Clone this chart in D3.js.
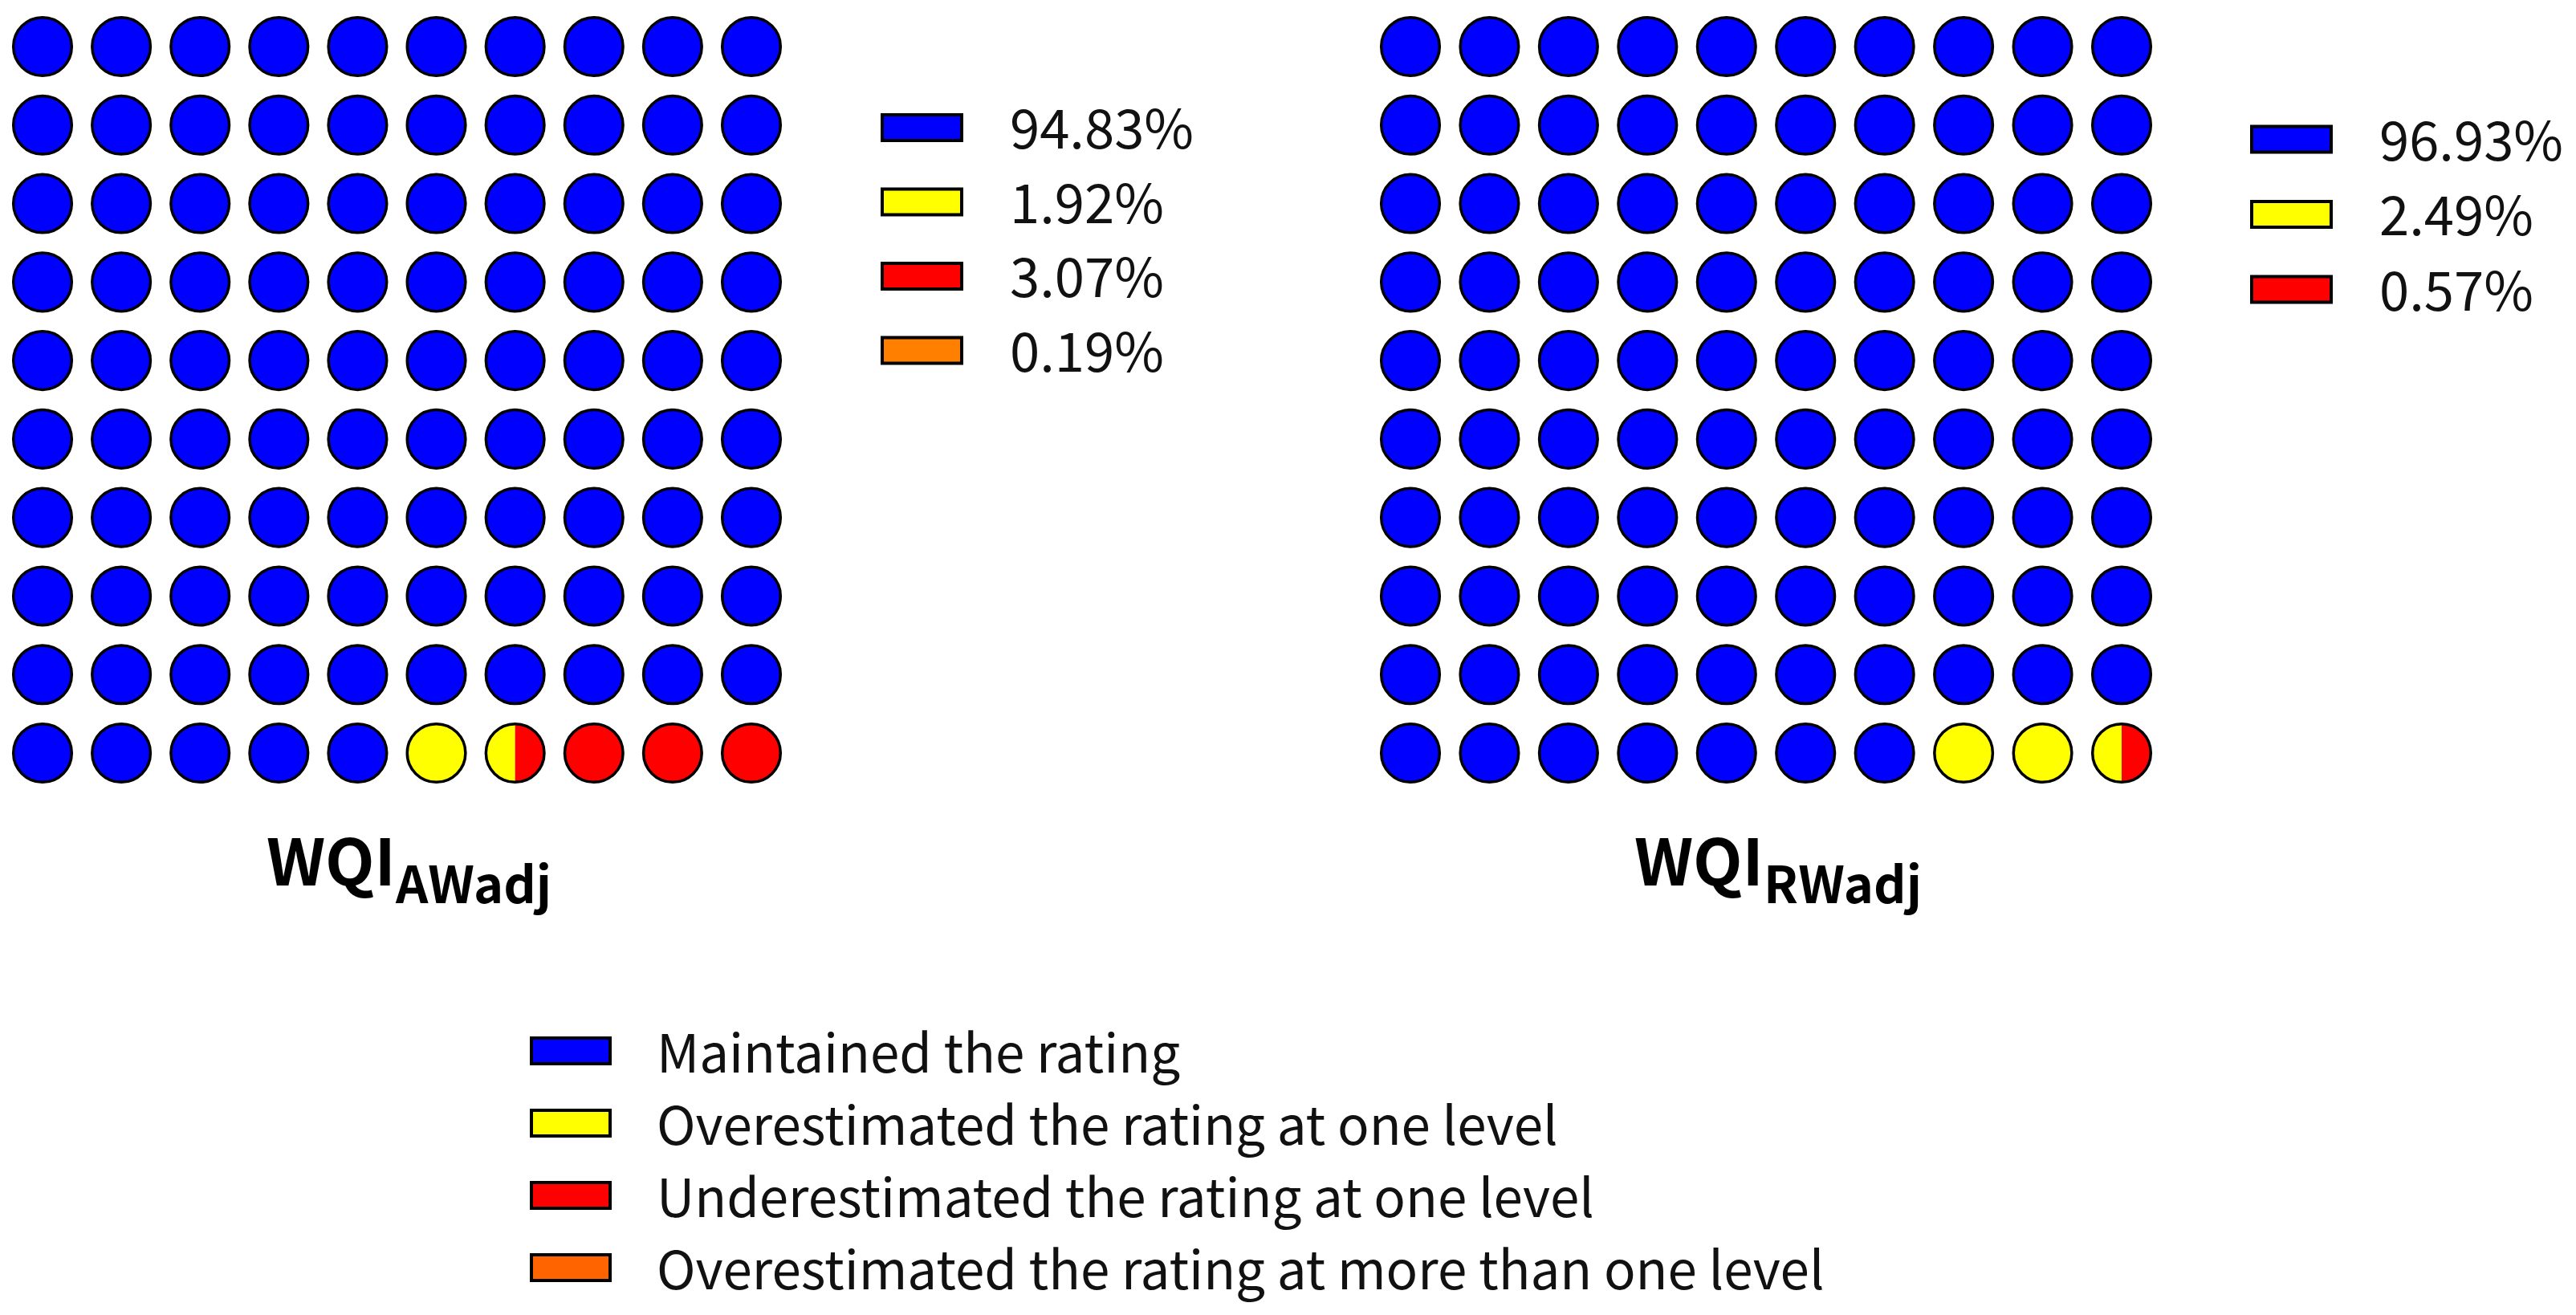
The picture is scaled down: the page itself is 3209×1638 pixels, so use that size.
<!DOCTYPE html>
<html>
<head>
<meta charset="utf-8">
<script src="https://cdn.jsdelivr.net/npm/d3@7"></script>
<style>
    html, body { margin: 0; padding: 0; background: #fff; }
    svg { display: block; }
    text { font-family: "Noto Sans CJK KR", "Noto Sans", sans-serif; fill: #111; }
</style>
</head>
<body>
<svg id="chart" width="3209" height="1638"></svg>
<script>
// categories and colours
const categories = [
    'Maintained the rating',
    'Overestimated the rating at one level',
    'Underestimated the rating at one level',
    'Overestimated the rating at more than one level'
];
const colors = ['#0000ff', '#ffff00', '#ff0000', '#ff8000'];
const bottomColors = ['#0000ff', '#ffff00', '#ff0000', '#ff6400'];

// percentages shown next to each waffle
const awPercent = [94.83, 1.92, 3.07, 0.19];
const rwPercent = [96.93, 2.49, 0.57];

// number of circles (halves allowed) filled per category
const awCells = [95, 1.5, 3.5, 0];
const rwCells = [97, 2.5, 0.5];

const titles = [
    { main: 'WQI', sub: 'AWadj' },
    { main: 'WQI', sub: 'RWadj' }
];

const svg = d3.select('#chart');
const defs = svg.append('defs');

(function init() {
    drawWaffle('aw', awCells, [53, 936], titles[0]);
    drawWaffle('rw', rwCells, [1757, 2643], titles[1]);
    drawSmallLegend(awPercent, 1097, 159, 92.5);
    drawSmallLegend(rwPercent, 2803, 173.5, 93.5);
    drawBottomLegend();
})();

function colorAt(counts, pos) {
    let acc = 0;
    for (let k = 0; k < counts.length; k++) {
        acc += counts[k];
        if (pos < acc) return colors[k];
    }
    return colors[counts.length - 1];
}

function drawWaffle(id, counts, xRange, title) {
    const x = d3.scaleLinear().domain([0, 9]).range(xRange);
    const y = d3.scaleLinear().domain([0, 9]).range([58, 938]);
    const r = 36.3;

    const cells = d3.range(100).map(i => ({
        i: i,
        col: i % 10,
        row: Math.floor(i / 10),
        left: colorAt(counts, i + 0.25),
        right: colorAt(counts, i + 0.75)
    }));

    const g = svg.append('g').attr('class', 'waffle-' + id);

    cells.forEach(d => {
        const cx = x(d.col), cy = y(d.row);
        if (d.left === d.right) {
            g.append('circle')
                .attr('cx', cx).attr('cy', cy).attr('r', r)
                .attr('fill', d.left)
                .attr('stroke', '#000').attr('stroke-width', 3.5);
        } else {
            // split circle: left half / right half
            const clipL = id + '-clipL-' + d.i, clipR = id + '-clipR-' + d.i;
            defs.append('clipPath').attr('id', clipL)
                .append('rect').attr('x', cx - r - 5).attr('y', cy - r - 5)
                .attr('width', r + 5).attr('height', 2 * r + 10);
            defs.append('clipPath').attr('id', clipR)
                .append('rect').attr('x', cx).attr('y', cy - r - 5)
                .attr('width', r + 5).attr('height', 2 * r + 10);
            g.append('circle')
                .attr('cx', cx).attr('cy', cy).attr('r', r)
                .attr('fill', d.left).attr('clip-path', 'url(#' + clipL + ')');
            g.append('circle')
                .attr('cx', cx).attr('cy', cy).attr('r', r)
                .attr('fill', d.right).attr('clip-path', 'url(#' + clipR + ')');
            g.append('circle')
                .attr('cx', cx).attr('cy', cy).attr('r', r)
                .attr('fill', 'none')
                .attr('stroke', '#000').attr('stroke-width', 3.5);
        }
    });

    const mid = (xRange[0] + xRange[1]) / 2 + 15;
    const t = svg.append('text')
        .attr('x', mid).attr('y', 1103)
        .attr('text-anchor', 'middle')
        .style('font-weight', 'bold')
        .style('font-size', '80px')
        .style('fill', '#000');
    t.append('tspan').text(title.main);
    t.append('tspan').attr('dy', 22).style('font-size', '63px').text(title.sub);
}

function drawSmallLegend(values, x0, y0, step) {
    const y = d3.scaleLinear().domain([0, 1]).range([y0, y0 + step]);
    const g = svg.append('g');
    const rows = g.selectAll('g').data(values).join('g')
        .attr('transform', (d, i) => `translate(${x0},${y(i)})`);
    rows.append('rect')
        .attr('x', 2).attr('y', -16)
        .attr('width', 99).attr('height', 32)
        .attr('fill', (d, i) => colors[i])
        .attr('stroke', '#000').attr('stroke-width', 4);
    rows.append('text')
        .attr('x', 161).attr('y', 26)
        .style('font-size', '67px')
        .text(d => d.toFixed(2) + '%');
}

function drawBottomLegend() {
    const y = d3.scaleLinear().domain([0, 1]).range([1309, 1399]);
    const g = svg.append('g');
    const rows = g.selectAll('g').data(categories).join('g')
        .attr('transform', (d, i) => `translate(662,${y(i)})`);
    rows.append('rect')
        .attr('x', 0).attr('y', -16)
        .attr('width', 98).attr('height', 32)
        .attr('fill', (d, i) => bottomColors[i])
        .attr('stroke', '#000').attr('stroke-width', 4);
    rows.append('text')
        .attr('x', 156).attr('y', 27)
        .style('font-size', '65.5px')
        .text(d => d);
}
</script>
</body>
</html>
